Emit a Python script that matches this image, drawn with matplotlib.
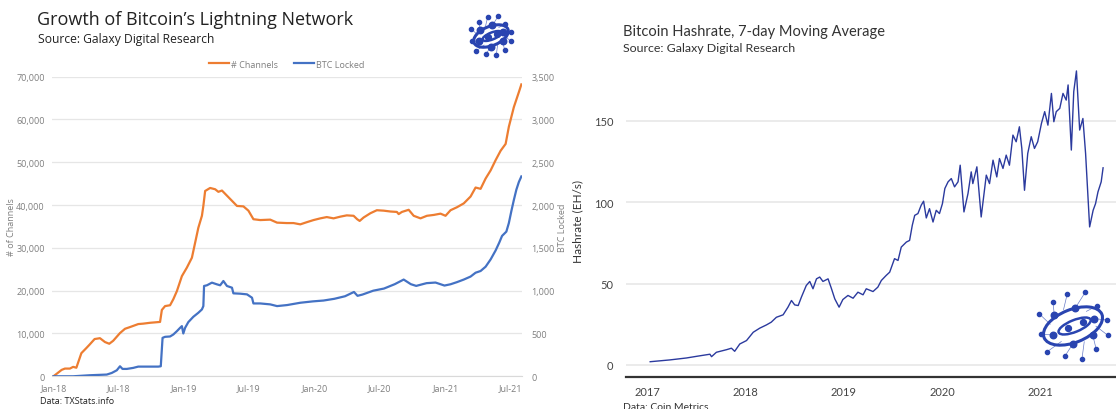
import matplotlib
matplotlib.use("Agg")
import numpy as np
import pandas as pd
import matplotlib.pyplot as plt
import matplotlib.dates as mdates
from matplotlib.patches import Ellipse

# ---- Lightning Network: number of channels (left axis)
channel_dates = [
    "2018-01-01", "2018-01-24", "2018-02-02", "2018-02-16", "2018-02-25", "2018-03-06",
    "2018-03-20", "2018-04-03", "2018-04-12", "2018-04-26", "2018-05-11", "2018-05-25",
    "2018-06-06", "2018-06-17", "2018-07-06", "2018-07-20", "2018-08-03", "2018-08-26",
    "2018-09-09", "2018-09-28", "2018-10-26", "2018-10-31", "2018-11-09", "2018-11-23",
    "2018-12-02", "2018-12-12", "2018-12-26", "2019-01-09", "2019-01-23", "2019-02-01",
    "2019-02-10", "2019-02-20", "2019-02-24", "2019-03-01", "2019-03-15", "2019-03-29",
    "2019-04-07", "2019-04-17", "2019-05-01", "2019-05-15", "2019-05-29", "2019-06-16",
    "2019-06-30", "2019-07-14", "2019-08-02", "2019-08-30", "2019-09-18", "2019-10-15",
    "2019-11-03", "2019-11-22", "2019-12-10", "2019-12-29", "2020-01-17", "2020-02-04",
    "2020-02-23", "2020-03-13", "2020-03-31", "2020-04-19", "2020-04-29", "2020-05-06",
    "2020-05-17", "2020-06-05", "2020-06-23", "2020-07-12", "2020-07-31", "2020-08-18",
    "2020-08-23", "2020-09-01", "2020-09-20", "2020-10-04", "2020-10-23", "2020-11-10",
    "2020-11-29", "2020-12-18", "2021-01-01", "2021-01-15", "2021-02-02", "2021-02-21",
    "2021-03-12", "2021-03-26", "2021-04-09", "2021-04-23", "2021-05-07", "2021-05-21",
    "2021-06-04", "2021-06-18", "2021-06-27", "2021-07-11", "2021-07-25", "2021-08-01",
]
channels = [
    0, 1500, 1800, 1800, 2200, 2000,
    5400, 6600, 7400, 8700, 8900, 8000,
    7600, 8300, 10100, 11100, 11500, 12200,
    12300, 12500, 12700, 15500, 16400, 16600,
    18000, 19900, 23400, 25400, 27700, 31200,
    34700, 37500, 39800, 43300, 44000, 43700,
    43100, 43400, 42200, 41000, 39800, 39700,
    38700, 36700, 36500, 36600, 35900, 35800,
    35800, 35500, 36000, 36500, 36900, 37200,
    36900, 37300, 37600, 37500, 36700, 36300,
    37100, 38100, 38800, 38700, 38500, 38400,
    37900, 38400, 38900, 37500, 36900, 37500,
    37700, 38000, 37500, 38800, 39500, 40400,
    42000, 44100, 43800, 46200, 48100, 50500,
    52700, 54300, 58300, 62900, 66400, 68200,
]

# ---- Lightning Network: BTC locked (right axis)
btc_dates = [
    "2018-01-01", "2018-02-25", "2018-04-12", "2018-05-30", "2018-06-13", "2018-06-27",
    "2018-07-06", "2018-07-13", "2018-07-25", "2018-08-12", "2018-08-26", "2018-10-21",
    "2018-10-28", "2018-11-02", "2018-11-09", "2018-11-23", "2018-12-02", "2018-12-12",
    "2018-12-21", "2018-12-26", "2018-12-30", "2019-01-04", "2019-01-13", "2019-01-27",
    "2019-02-10", "2019-02-20", "2019-02-24", "2019-02-26", "2019-03-06", "2019-03-20",
    "2019-04-03", "2019-04-12", "2019-04-21", "2019-05-01", "2019-05-15", "2019-05-19",
    "2019-06-07", "2019-06-26", "2019-07-10", "2019-07-14", "2019-08-02", "2019-08-30",
    "2019-09-18", "2019-10-16", "2019-11-22", "2019-12-27", "2020-01-26", "2020-02-25",
    "2020-03-26", "2020-04-20", "2020-04-30", "2020-05-14", "2020-06-13", "2020-07-13",
    "2020-08-12", "2020-09-06", "2020-09-26", "2020-10-11", "2020-11-09", "2020-12-04",
    "2020-12-29", "2021-01-15", "2021-02-02", "2021-02-21", "2021-03-12", "2021-03-26",
    "2021-04-09", "2021-04-23", "2021-05-07", "2021-05-21", "2021-05-31", "2021-06-08",
    "2021-06-20", "2021-06-27", "2021-07-04", "2021-07-11", "2021-07-18", "2021-07-25",
    "2021-08-01",
]
btc_locked = [
    0, 0, 12, 20, 39, 70,
    117, 86, 86, 98, 113, 113,
    117, 449, 461, 465, 488, 527,
    566, 586, 500, 566, 633, 695,
    742, 781, 820, 1055, 1063, 1094,
    1074, 1063, 1113, 1055, 1035, 969,
    965, 957, 918, 851, 851, 840,
    820, 832, 859, 875, 885, 905,
    935, 985, 940, 955, 1000, 1025,
    1076, 1130, 1076, 1056, 1088, 1095,
    1060, 1075, 1100, 1130, 1165, 1210,
    1230, 1280, 1365, 1470, 1560, 1640,
    1690, 1790, 1930, 2060, 2180, 2270,
    2335,
]

# ---- Bitcoin hashrate, 7-day moving average (EH/s)
hash_dates = [
    "2017-01-11", "2017-03-25", "2017-05-26", "2017-07-02", "2017-08-21", "2017-08-27",
    "2017-09-14", "2017-10-22", "2017-11-09", "2017-11-21", "2017-12-10", "2018-01-04",
    "2018-01-29", "2018-02-22", "2018-03-19", "2018-04-06", "2018-04-25", "2018-05-20",
    "2018-06-07", "2018-06-20", "2018-07-02", "2018-07-15", "2018-07-27", "2018-08-14",
    "2018-08-27", "2018-09-08", "2018-09-21", "2018-10-03", "2018-10-15", "2018-11-03",
    "2018-11-15", "2018-11-28", "2018-12-14", "2018-12-28", "2019-01-16", "2019-02-04",
    "2019-02-22", "2019-03-13", "2019-03-25", "2019-04-19", "2019-05-07", "2019-05-20",
    "2019-06-07", "2019-06-20", "2019-07-08", "2019-07-21", "2019-08-02", "2019-08-21",
    "2019-09-02", "2019-09-12", "2019-09-21", "2019-10-03", "2019-10-15", "2019-10-24",
    "2019-11-03", "2019-11-15", "2019-11-28", "2019-12-10", "2019-12-22", "2020-01-02",
    "2020-01-11", "2020-01-23", "2020-02-04", "2020-02-16", "2020-02-29", "2020-03-08",
    "2020-03-22", "2020-04-06", "2020-04-18", "2020-04-24", "2020-05-09", "2020-05-25",
    "2020-06-13", "2020-06-25", "2020-07-08", "2020-07-22", "2020-08-01", "2020-08-14",
    "2020-08-26", "2020-09-07", "2020-09-20", "2020-10-02", "2020-10-14", "2020-10-23",
    "2020-11-02", "2020-11-14", "2020-11-27", "2020-12-09", "2020-12-21", "2021-01-04",
    "2021-01-16", "2021-01-28", "2021-02-10", "2021-02-19", "2021-02-28", "2021-03-13",
    "2021-03-25", "2021-04-06", "2021-04-13", "2021-04-25", "2021-05-04", "2021-05-14",
    "2021-05-26", "2021-06-07", "2021-06-17", "2021-07-02", "2021-07-15", "2021-07-24",
    "2021-08-02", "2021-08-14", "2021-08-21",
]
hash_rate = [
    2.0, 3.1, 4.3, 5.3, 6.6, 5.1,
    7.8, 9.4, 10.3, 8.4, 12.9, 15.0,
    20.1, 22.6, 24.6, 26.3, 29.3, 30.8,
    35.5, 39.6, 36.9, 36.5, 41.7, 48.8,
    51.3, 46.8, 52.9, 54.0, 51.3, 52.9,
    47.2, 40.6, 35.5, 40.2, 42.7, 41.0,
    44.7, 43.1, 46.8, 45.1, 47.8, 51.9,
    55.0, 57.0, 65.3, 64.2, 72.4, 75.5,
    76.5, 85.8, 91.9, 93.0, 98.1, 100.6,
    90.3, 96.0, 87.8, 95.0, 93.0, 99.1,
    108.4, 112.5, 114.5, 109.4, 112.5, 122.7,
    94.0, 105.3, 118.6, 111.4, 121.7, 90.9,
    116.6, 111.4, 125.8, 115.5, 126.8, 120.7,
    128.9, 122.7, 141.2, 137.1, 146.3, 133.0,
    107.3, 129.9, 140.2, 133.0, 137.1, 148.4,
    155.6, 147.3, 166.8, 149.4, 155.6, 157.6,
    166.8, 162.7, 172.0, 132.0, 167.9, 180.6,
    144.3, 151.4, 129.9, 84.8, 95.0, 99.1,
    106.3, 112.5, 121.1,
]

ORANGE = "#ED7D31"
BLUE = "#4472C4"
NAVY = "#2B3A9E"
LOGO = "#2944B0"


def draw_logo(fig, rect):
    # simplified Galaxy Digital mark: network dots around a tilted orbit
    ax = fig.add_axes(rect)
    ax.set_xlim(-1.25, 1.25)
    ax.set_ylim(-1.25, 1.25)
    ax.set_aspect("equal")
    ax.axis("off")
    ax.add_patch(Ellipse((0, 0), 1.9, 1.0, angle=22, fill=False, ec=LOGO, lw=2.2))
    ax.add_patch(Ellipse((0.05, 0.0), 1.05, 0.36, angle=22, fill=False, ec=LOGO, lw=1.8))
    ang = np.deg2rad([10, 40, 70, 100, 130, 160, 195, 225, 255, 285, 315, 345])
    rad = np.array([1.05, 0.95, 1.1, 1.0, 0.95, 1.1, 1.0, 1.1, 0.95, 1.05, 1.0, 1.1])
    ox, oy = rad * np.cos(ang), rad * np.sin(ang)
    ix, iy = 0.7 * np.cos(ang + 0.25), 0.55 * np.sin(ang + 0.25)
    for a, b, c, d in zip(ox, oy, ix, iy):
        ax.plot([a, c], [b, d], color=LOGO, lw=0.5, alpha=0.7)
    ax.scatter(ox, oy, s=9, color=LOGO, zorder=3)
    ax.scatter(ix[::2], iy[::2], s=22, color=LOGO, zorder=3)
    ax.scatter([-0.15, 0.3], [-0.05, 0.12], s=18, color=LOGO, zorder=3)


fig = plt.figure(figsize=(11.16, 4.10), dpi=100)

# ================= left chart =================
seg = ["Open Sans", "DejaVu Sans"]
ax1 = fig.add_axes([0.0463, 0.0798, 0.4212, 0.7307])
ax1b = ax1.twinx()
cd = pd.to_datetime(channel_dates)
bd = pd.to_datetime(btc_dates)
l1, = ax1.plot(cd, channels, color=ORANGE, lw=1.6, label="# Channels")
l2, = ax1b.plot(bd, btc_locked, color=BLUE, lw=1.6, label="BTC Locked")
ax1.set_ylim(0, 70000)
ax1b.set_ylim(0, 3500)
ax1.set_yticks(np.arange(0, 70001, 10000))
ax1b.set_yticks(np.arange(0, 3501, 500))
ax1.yaxis.set_major_formatter(matplotlib.ticker.StrMethodFormatter("{x:,.0f}"))
ax1b.yaxis.set_major_formatter(matplotlib.ticker.StrMethodFormatter("{x:,.0f}"))
ax1.set_xlim(pd.Timestamp("2017-12-27"), pd.Timestamp("2021-08-02"))
ax1.xaxis.set_major_locator(mdates.MonthLocator(bymonth=[1, 7]))
ax1.xaxis.set_major_formatter(mdates.DateFormatter("%b-%y"))
ax1.grid(axis="y", color="#e6e6e6", lw=0.9)
ax1.set_axisbelow(True)
for a in (ax1, ax1b):
    for s in a.spines.values():
        s.set_visible(False)
    a.tick_params(length=0, labelsize=6.5, colors="#7f7f7f")
    for t in a.get_yticklabels() + a.get_xticklabels():
        t.set_family(seg)
ax1.spines["bottom"].set_visible(True)
ax1.spines["bottom"].set_color("#d9d9d9")
ax1.tick_params(axis="y", pad=5)
ax1b.tick_params(axis="y", pad=7)
ax1.tick_params(axis="x", pad=5)
ax1.set_ylabel("# of Channels", fontsize=6.5, color="#7f7f7f", family=seg, labelpad=0)
ax1b.set_ylabel("BTC Locked", fontsize=6.5, color="#7f7f7f", family=seg, labelpad=2)
ax1.legend(handles=[l1, l2], loc="lower center", bbox_to_anchor=(0.5, 1.0), ncol=2,
           frameon=False, prop={"family": seg, "size": 6.5}, labelcolor="#7f7f7f",
           handlelength=2.2, handletextpad=0.2, columnspacing=1.8)

fig.text(37 / 1116, 1 - 20 / 410, "Growth of Bitcoin\u2019s Lightning Network", fontsize=13,
         family=seg, color="#222222", va="center")
fig.text(38 / 1116, 1 - 40 / 410, "Source: Galaxy Digital Research", fontsize=8.7,
         family=seg, color="#222222", va="center")
fig.text(40 / 1116, 1 - 402 / 410, "Data: TXStats.info", fontsize=6.5,
         family=seg, color="#222222", va="center")
draw_logo(fig, [467 / 1116, 1 - 61 / 410, 48 / 1116, 48 / 410])

# ================= right chart =================
lato = ["Lato", "DejaVu Sans"]
ax2 = fig.add_axes([0.5609, 0.0788, 0.4391, 0.7632])
hd = pd.to_datetime(hash_dates)
ax2.plot(hd, hash_rate, color=NAVY, lw=1.0)
ax2.set_xlim(pd.Timestamp("2016-10-13"), pd.Timestamp("2021-10-08"))
ax2.set_ylim(-7.2, 185)
ax2.set_yticks([0, 50, 100, 150])
ax2.xaxis.set_major_locator(mdates.YearLocator())
ax2.xaxis.set_major_formatter(mdates.DateFormatter("%Y"))
ax2.grid(axis="y", color="#e8e8e8", lw=1.2)
ax2.set_axisbelow(True)
for s in ax2.spines.values():
    s.set_visible(False)
ax2.spines["bottom"].set_visible(True)
ax2.spines["bottom"].set_color("#333333")
ax2.spines["bottom"].set_linewidth(1.6)
ax2.tick_params(length=0, labelsize=8, colors="#444444")
ax2.tick_params(axis="y", pad=9)
ax2.tick_params(axis="x", pad=7)
for t in ax2.get_yticklabels() + ax2.get_xticklabels():
    t.set_family(lato)
ax2.set_ylabel("Hashrate (EH/s)", fontsize=8.5, color="#333333", family=lato, labelpad=8)

fig.text(623 / 1116, 1 - 32 / 410, "Bitcoin Hashrate, 7-day Moving Average", fontsize=10.5,
         family=lato, color="#333333", va="center")
fig.text(623 / 1116, 1 - 48 / 410, "Source: Galaxy Digital Research", fontsize=8.9,
         family=lato, color="#333333", va="center")
fig.text(623 / 1116, 1 - 403 / 410, "Data: Coin Metrics", fontsize=7.5,
         family=lato, color="#333333", va="top")
draw_logo(fig, [1032 / 1116, 1 - 368 / 410, 82 / 1116, 82 / 410])

fig.savefig("out.png", dpi=100, facecolor="white")
